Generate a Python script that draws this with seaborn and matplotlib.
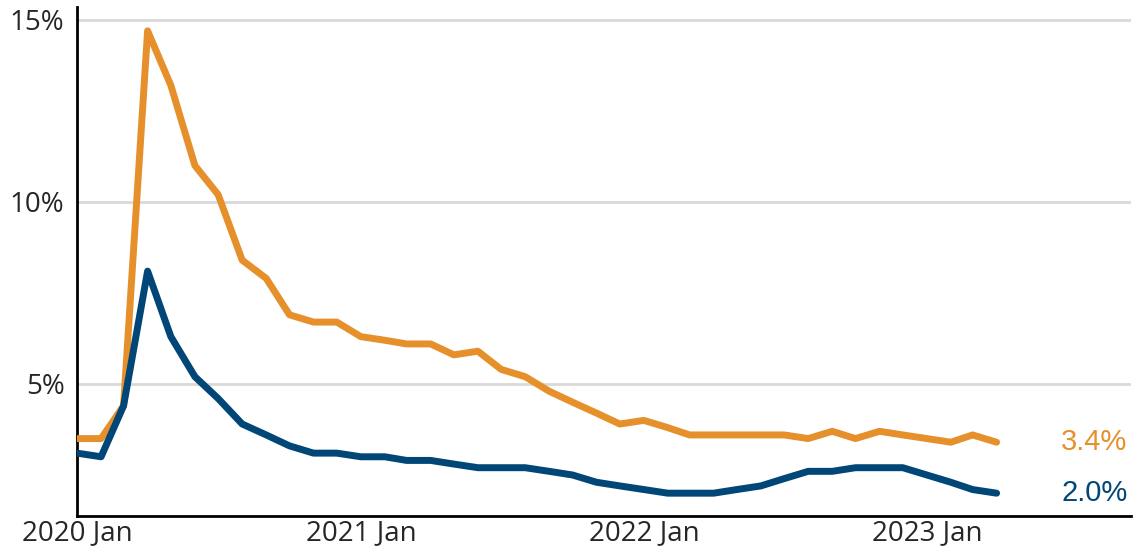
import pandas as pd
import matplotlib
matplotlib.use("Agg")
import matplotlib.pyplot as plt
import seaborn as sns

# monthly data, Jan 2020 - Apr 2023
months = pd.date_range("2020-01-01", "2023-04-01", freq="MS")

orange_vals = [3.5, 3.5, 4.4, 14.7, 13.2, 11.0, 10.2, 8.4, 7.9, 6.9,
               6.7, 6.7, 6.3, 6.2, 6.1, 6.1, 5.8, 5.9, 5.4, 5.2,
               4.8, 4.5, 4.2, 3.9, 4.0, 3.8, 3.6, 3.6, 3.6, 3.6,
               3.6, 3.5, 3.7, 3.5, 3.7, 3.6, 3.5, 3.4, 3.6, 3.4]
blue_vals = [3.1, 3.0, 4.4, 8.1, 6.3, 5.2, 4.6, 3.9, 3.6, 3.3,
             3.1, 3.1, 3.0, 3.0, 2.9, 2.9, 2.8, 2.7, 2.7, 2.7,
             2.6, 2.5, 2.3, 2.2, 2.1, 2.0, 2.0, 2.0, 2.1, 2.2,
             2.4, 2.6, 2.6, 2.7, 2.7, 2.7, 2.5, 2.3, 2.1, 2.0]

y_ticks = [5, 10, 15]
y_tick_labels = ["5%", "10%", "15%"]
x_ticks = pd.to_datetime(["2020-01-01", "2021-01-01", "2022-01-01", "2023-01-01"])
x_tick_labels = ["2020 Jan", "2021 Jan", "2022 Jan", "2023 Jan"]

ORANGE = "#e6902c"
BLUE = "#004677"

sns.set_style("white")
plt.rcParams["font.family"] = ["Open Sans", "DejaVu Sans"]

fig = plt.figure(figsize=(11.33, 5.52), dpi=100)
ax = fig.add_axes([0.068, 0.065, 0.93, 0.922])

sns.lineplot(x=months, y=orange_vals, color=ORANGE, linewidth=5, ax=ax, zorder=3)
sns.lineplot(x=months, y=blue_vals, color=BLUE, linewidth=5, ax=ax, zorder=4)

ax.set_ylim(1.37, 15.35)
ax.set_xlim(pd.Timestamp("2020-01-01"), pd.Timestamp("2023-09-21"))

ax.set_yticks(y_ticks)
ax.set_yticklabels(y_tick_labels, fontsize=20)
ax.set_xticks(x_ticks)
ax.set_xticklabels(x_tick_labels, fontsize=20)
ax.yaxis.grid(True, color="#d9d9d9", linewidth=2)
ax.set_axisbelow(True)

ax.tick_params(axis="y", length=0, pad=9)
ax.tick_params(axis="x", direction="in", length=5, width=1.5, pad=2, color="#333333")

for side in ["top", "right"]:
    ax.spines[side].set_visible(False)
for side in ["left", "bottom"]:
    ax.spines[side].set_color("black")
    ax.spines[side].set_linewidth(2)

# end labels
lbl_font = ["Liberation Sans", "DejaVu Sans"]
ax.text(0.997, orange_vals[-1], f"{orange_vals[-1]:.1f}%", transform=ax.get_yaxis_transform(),
        ha="right", va="center", color=ORANGE, fontsize=21, family=lbl_font)
ax.text(0.997, blue_vals[-1], f"{blue_vals[-1]:.1f}%", transform=ax.get_yaxis_transform(),
        ha="right", va="center", color=BLUE, fontsize=21, family=lbl_font)

ax.set_xlabel("")
ax.set_ylabel("")

fig.savefig("out.png", dpi=100)
